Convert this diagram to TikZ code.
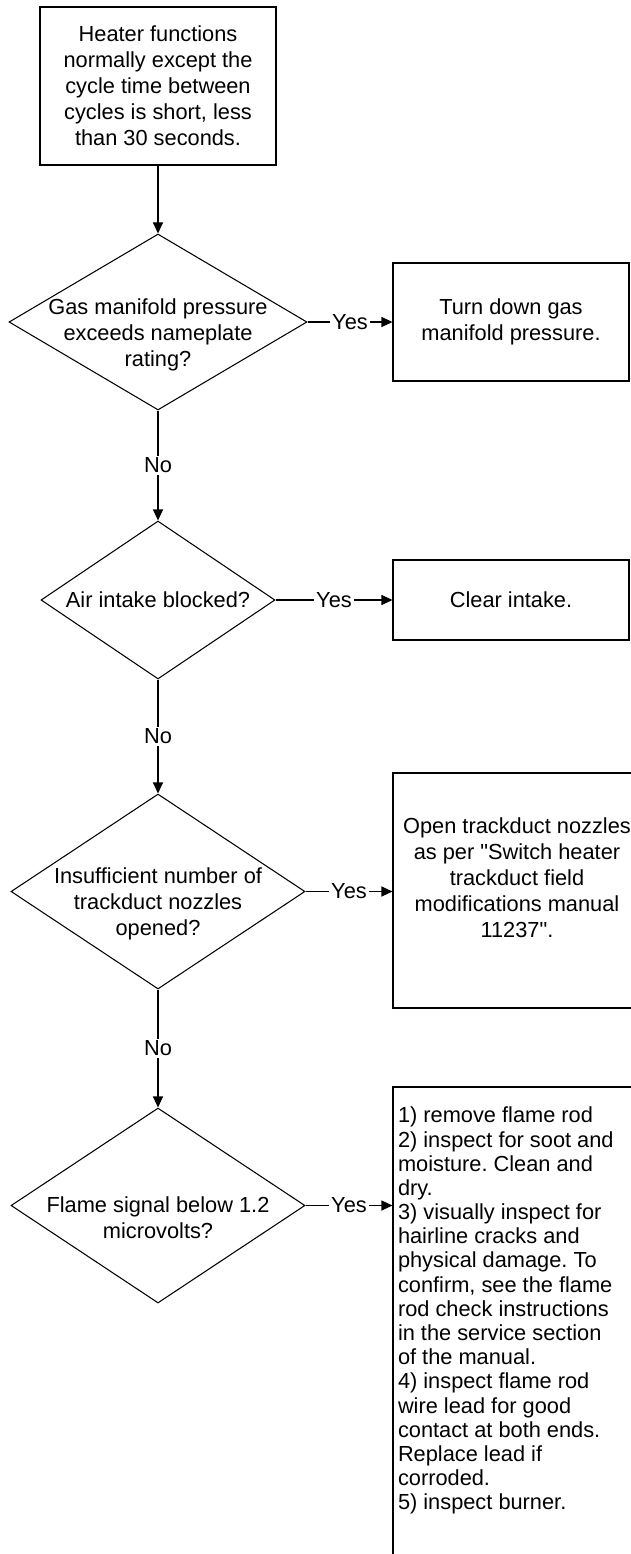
\documentclass[tikz,border=0pt]{standalone}
\usepackage{fontspec}
\setmainfont{Liberation Sans}
\usetikzlibrary{shapes.geometric,arrows.meta}
\frenchspacing

\begin{document}
\begin{tikzpicture}[>={Triangle[length=0.22cm,width=0.2cm]}, line width=0.6pt,
  box/.style={draw, rectangle, inner sep=0pt},
  decision/.style={draw, diamond, inner sep=0pt},
  txt/.style={align=center, inner sep=0pt, font=\fontsize{12.4}{14.74}\selectfont},
  answer/.style={fill=white, inner sep=1pt, font=\fontsize{12.4}{14.74}\selectfont}]
\useasboundingbox (0, 0) rectangle (12.62, -31.08);
\clip (0, 0) rectangle (12.62, -31.08);
\node[box, minimum width=4.72cm, minimum height=3.16cm] (start) at (3.16, -1.72) {};
\node[txt] (starttext) at (start.center) {Heater functions\\normally except the\\cycle time between\\cycles is short, less\\than 30 seconds.};
\node[decision, minimum width=5.96cm, minimum height=3.52cm] (gas) at (3.16, -6.44) {};
\node[txt] (gastext) at ([yshift=-0.25cm]gas.center) {Gas manifold pressure\\exceeds nameplate\\rating?};
\node[box, minimum width=4.72cm, minimum height=2.36cm] (turndown) at (10.22, -6.44) {};
\node[txt] (turndowntext) at (turndown.center) {Turn down gas\\manifold pressure.};
\node[decision, minimum width=4.68cm, minimum height=3.16cm] (air) at (3.16, -12.0) {};
\node[txt] (airtext) at (air.center) {Air intake blocked?};
\node[box, minimum width=4.72cm, minimum height=1.6cm] (clear) at (10.22, -12.0) {};
\node[txt] (cleartext) at (clear.center) {Clear intake.};
\node[decision, minimum width=5.88cm, minimum height=3.9cm] (nozzles) at (3.16, -17.83) {};
\node[txt] (nozzlestext) at ([yshift=-0.25cm]nozzles.center) {Insufficient number of\\trackduct nozzles\\opened?};
\node[box, minimum width=4.96cm, minimum height=4.7cm] (open) at (10.34, -17.81) {};
\node[txt] (opentext) at ([yshift=0.26cm]open.center) {Open trackduct nozzles\\as per \textquotedbl Switch heater\\trackduct field\\modifications manual\\11237\textquotedbl.};
\node[decision, minimum width=5.88cm, minimum height=3.9cm] (flame) at (3.16, -24.11) {};
\node[txt] (flametext) at ([yshift=-0.25cm]flame.center) {Flame signal below 1.2\\microvolts?};
\node[box, minimum width=4.96cm, minimum height=10.26cm] (rod) at (10.34, -26.87) {};
\node[txt, align=left, anchor=north west, font=\fontsize{12.4}{13.77}\selectfont] (rodtext) at ([xshift=0.1cm, yshift=-0.4cm]rod.north west) {1) remove flame rod\\2) inspect for soot and\\moisture. Clean and\\dry.\\3) visually inspect for\\hairline cracks and\\physical damage. To\\confirm, see the flame\\rod check instructions\\in the service section\\of the manual.\\4) inspect flame rod\\wire lead for good\\contact at both ends.\\Replace lead if\\corroded.\\5) inspect burner.};
\draw[->] (start) -- (gas);
\draw[->] (gas) -- node[answer]{Yes} (turndown);
\draw[->] (gas) -- node[answer]{No} (air);
\draw[->] (air) -- node[answer]{Yes} (clear);
\draw[->] (air) -- node[answer]{No} (nozzles);
\draw[->] (nozzles.east) -- node[answer]{Yes} (nozzles.east -| open.west);
\draw[->] (nozzles) -- node[answer]{No} (flame);
\draw[->] (flame.east) -- node[answer]{Yes} (flame.east -| rod.west);
\end{tikzpicture}
\end{document}
